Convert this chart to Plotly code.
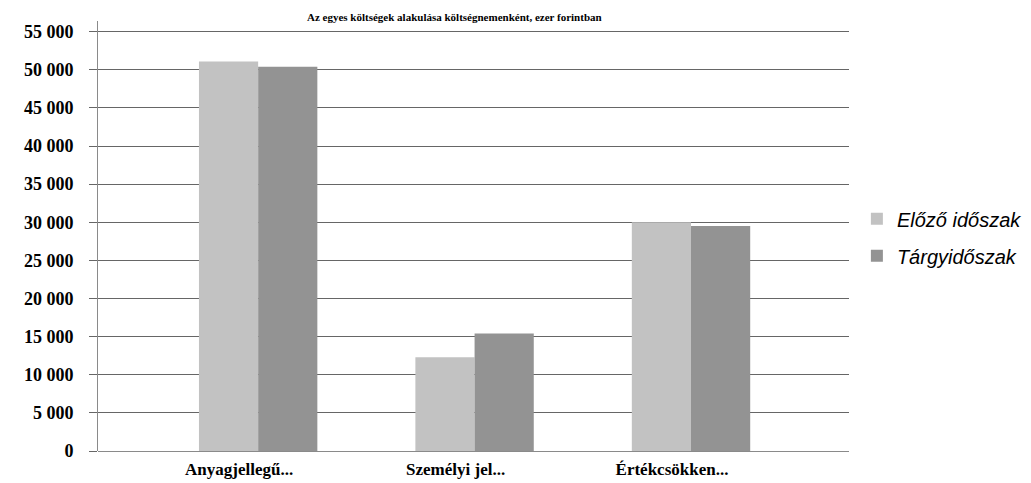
import plotly.graph_objects as go

categories = ["Anyagjellegű...", "Személyi jel...", "Értékcsökken..."]
prev_period = [51100, 12300, 30000]
current_period = [50400, 15400, 29500]
series_names = ["Előző időszak", "Tárgyidőszak"]
title_text = "Az egyes költségek alakulása költségnemenként, ezer forintban"

fig = go.Figure()
fig.add_trace(go.Bar(x=categories, y=prev_period, name=series_names[0],
                     marker=dict(color="#c2c2c2", line=dict(width=0)),
                     legendgroup="a"))
fig.add_trace(go.Bar(x=categories, y=current_period, name=series_names[1],
                     marker=dict(color="#939393", line=dict(width=0)),
                     legendgroup="b"))

fig.update_layout(
    width=1031, height=483,
    margin=dict(l=90, r=179, t=13, b=37),
    paper_bgcolor="white", plot_bgcolor="white",
    barmode="group", bargap=0.453, bargroupgap=0,
    separators=", ",
    title=dict(text=title_text, x=0.29, xanchor="left", xref="container",
               y=0.988, yanchor="top", yref="container",
               font=dict(family="Liberation Serif", size=11, color="black", weight="bold")),
    legend=dict(x=1.0105, xanchor="left", y=0.497, yanchor="middle",
                font=dict(family="Liberation Sans", size=20, color="black", style="italic"),
                tracegroupgap=8, bgcolor="rgba(0,0,0,0)"),
    showlegend=True,
)
fig.update_xaxes(
    type="category", range=[-0.74, 2.73],
    showgrid=False, showline=False, ticks="",
    tickfont=dict(family="Liberation Serif", size=17, color="black", weight="bold"),
    ticklabelstandoff=6, ticklabelshift=-19,
)
fig.update_yaxes(
    range=[0, 56400], tick0=0, dtick=5000, tickformat=",d",
    showgrid=True, gridcolor="#666666", gridwidth=1,
    showline=True, linecolor="#8a8a8a", linewidth=1,
    zeroline=True, zerolinecolor="#8a8a8a", zerolinewidth=1,
    ticks="outside", ticklen=8, tickcolor="#666666",
    tickfont=dict(family="Liberation Serif", size=18, color="black", weight="bold"),
    ticklabelstandoff=12,
)

fig.write_html("out.html")
